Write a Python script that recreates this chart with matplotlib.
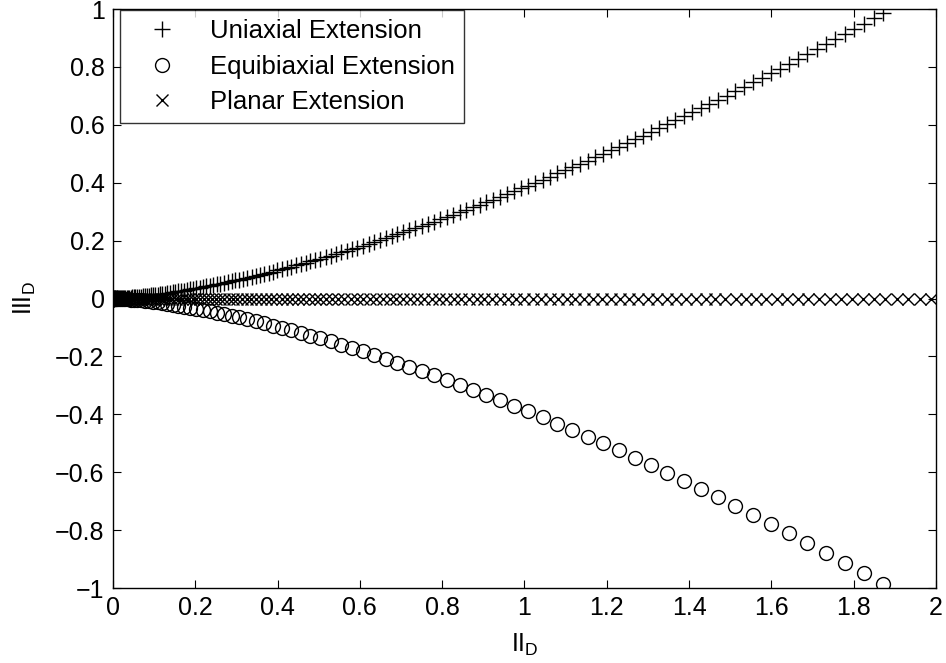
import numpy as np
import matplotlib.pyplot as plt
from matplotlib.ticker import FuncFormatter

plt.rcParams['font.family'] = ['Liberation Sans', 'DejaVu Sans']
plt.rcParams['mathtext.fontset'] = 'custom'
plt.rcParams['mathtext.rm'] = 'Liberation Sans'
plt.rcParams['mathtext.it'] = 'Liberation Sans:italic'

# uniaxial extension (II_D, III_D)
II_uni = [0.0, 0.0001, 0.0003, 0.0007, 0.0012, 0.0019, 0.0027, 0.0037, 0.0048, 0.0061,
          0.0075, 0.0091, 0.0108, 0.0127, 0.0147, 0.0169, 0.0192, 0.0217, 0.0243, 0.0271,
          0.0300, 0.0331, 0.0363, 0.0397, 0.0432, 0.0469, 0.0507, 0.0547, 0.0588, 0.0631,
          0.0675, 0.0721, 0.0768, 0.0817, 0.0867, 0.0919, 0.0972, 0.1027, 0.1083, 0.1141,
          0.1200, 0.1261, 0.1323, 0.1387, 0.1452, 0.1519, 0.1587, 0.1657, 0.1728, 0.1801,
          0.1875, 0.1951, 0.2028, 0.2107, 0.2187, 0.2269, 0.2352, 0.2437, 0.2523, 0.2611,
          0.2700, 0.2791, 0.2883, 0.2977, 0.3072, 0.3169, 0.3267, 0.3367, 0.3468, 0.3571,
          0.3675, 0.3781, 0.3888, 0.3997, 0.4107, 0.4219, 0.4332, 0.4447, 0.4563, 0.4681,
          0.4800, 0.4921, 0.5043, 0.5167, 0.5292, 0.5419, 0.5547, 0.5677, 0.5808, 0.5941,
          0.6075, 0.6211, 0.6348, 0.6487, 0.6627, 0.6769, 0.6912, 0.7057, 0.7203, 0.7351,
          0.7500, 0.7651, 0.7803, 0.7957, 0.8112, 0.8269, 0.8427, 0.8587, 0.8748, 0.8911,
          0.9075, 0.9241, 0.9408, 0.9577, 0.9747, 0.9919, 1.0092, 1.0267, 1.0443, 1.0621,
          1.0800, 1.0981, 1.1163, 1.1347, 1.1532, 1.1719, 1.1907, 1.2097, 1.2288, 1.2481,
          1.2675, 1.2871, 1.3068, 1.3267, 1.3467, 1.3669, 1.3872, 1.4077, 1.4283, 1.4491,
          1.4700, 1.4911, 1.5123, 1.5337, 1.5552, 1.5769, 1.5987, 1.6207, 1.6428, 1.6651,
          1.6875, 1.7101, 1.7328, 1.7557, 1.7787, 1.8019, 1.8252, 1.8487, 1.8723]
III_uni = [0.0, 0.0, 0.0, 0.0, 0.0, 0.0, 0.0001, 0.0001, 0.0001, 0.0002,
           0.0003, 0.0003, 0.0004, 0.0005, 0.0007, 0.0008, 0.0010, 0.0012, 0.0015, 0.0017,
           0.0020, 0.0023, 0.0027, 0.0030, 0.0035, 0.0039, 0.0044, 0.0049, 0.0055, 0.0061,
           0.0068, 0.0074, 0.0082, 0.0090, 0.0098, 0.0107, 0.0117, 0.0127, 0.0137, 0.0148,
           0.0160, 0.0172, 0.0185, 0.0199, 0.0213, 0.0228, 0.0243, 0.0260, 0.0276, 0.0294,
           0.0313, 0.0332, 0.0352, 0.0372, 0.0394, 0.0416, 0.0439, 0.0463, 0.0488, 0.0513,
           0.0540, 0.0567, 0.0596, 0.0625, 0.0655, 0.0687, 0.0719, 0.0752, 0.0786, 0.0821,
           0.0858, 0.0895, 0.0933, 0.0973, 0.1013, 0.1055, 0.1097, 0.1141, 0.1186, 0.1233,
           0.1280, 0.1329, 0.1378, 0.1429, 0.1482, 0.1535, 0.1590, 0.1646, 0.1704, 0.1762,
           0.1823, 0.1884, 0.1947, 0.2011, 0.2076, 0.2143, 0.2212, 0.2282, 0.2353, 0.2426,
           0.2500, 0.2576, 0.2653, 0.2732, 0.2812, 0.2894, 0.2978, 0.3063, 0.3149, 0.3238,
           0.3328, 0.3419, 0.3512, 0.3607, 0.3704, 0.3802, 0.3902, 0.4004, 0.4108, 0.4213,
           0.4320, 0.4429, 0.4540, 0.4652, 0.4767, 0.4883, 0.5001, 0.5121, 0.5243, 0.5367,
           0.5493, 0.5620, 0.5750, 0.5882, 0.6015, 0.6151, 0.6289, 0.6428, 0.6570, 0.6714,
           0.6860, 0.7008, 0.7158, 0.7311, 0.7465, 0.7622, 0.7780, 0.7941, 0.8104, 0.8270,
           0.8438, 0.8607, 0.8780, 0.8954, 0.9131, 0.9310, 0.9491, 0.9675, 0.9861]

# equibiaxial extension
II_equi = [0.0, 0.0003, 0.0012, 0.0027, 0.0048, 0.0075, 0.0108, 0.0147, 0.0192, 0.0243,
           0.0300, 0.0363, 0.0432, 0.0507, 0.0588, 0.0675, 0.0768, 0.0867, 0.0972, 0.1083,
           0.1200, 0.1323, 0.1452, 0.1587, 0.1728, 0.1875, 0.2028, 0.2187, 0.2352, 0.2523,
           0.2700, 0.2883, 0.3072, 0.3267, 0.3468, 0.3675, 0.3888, 0.4107, 0.4332, 0.4563,
           0.4800, 0.5043, 0.5292, 0.5547, 0.5808, 0.6075, 0.6348, 0.6627, 0.6912, 0.7203,
           0.7500, 0.7803, 0.8112, 0.8427, 0.8748, 0.9075, 0.9408, 0.9747, 1.0092, 1.0443,
           1.0800, 1.1163, 1.1532, 1.1907, 1.2288, 1.2675, 1.3068, 1.3467, 1.3872, 1.4283,
           1.4700, 1.5123, 1.5552, 1.5987, 1.6428, 1.6875, 1.7328, 1.7787, 1.8252, 1.8723]
III_equi = [0.0, 0.0, 0.0, -0.0001, -0.0001, -0.0003, -0.0004, -0.0007, -0.0010, -0.0015,
            -0.0020, -0.0027, -0.0035, -0.0044, -0.0055, -0.0068, -0.0082, -0.0098, -0.0117, -0.0137,
            -0.0160, -0.0185, -0.0213, -0.0243, -0.0276, -0.0313, -0.0352, -0.0394, -0.0439, -0.0488,
            -0.0540, -0.0596, -0.0655, -0.0719, -0.0786, -0.0858, -0.0933, -0.1013, -0.1097, -0.1186,
            -0.1280, -0.1378, -0.1482, -0.1590, -0.1704, -0.1823, -0.1947, -0.2076, -0.2212, -0.2353,
            -0.2500, -0.2653, -0.2812, -0.2978, -0.3149, -0.3328, -0.3512, -0.3704, -0.3902, -0.4108,
            -0.4320, -0.4540, -0.4767, -0.5001, -0.5243, -0.5493, -0.5750, -0.6015, -0.6289, -0.6570,
            -0.6860, -0.7158, -0.7465, -0.7780, -0.8104, -0.8438, -0.8780, -0.9131, -0.9491, -0.9861]

# planar extension
II_plan = [0.0, 0.0001, 0.0004, 0.0009, 0.0016, 0.0025, 0.0036, 0.0049, 0.0064, 0.0081,
           0.0100, 0.0121, 0.0144, 0.0169, 0.0196, 0.0225, 0.0256, 0.0289, 0.0324, 0.0361,
           0.0400, 0.0441, 0.0484, 0.0529, 0.0576, 0.0625, 0.0676, 0.0729, 0.0784, 0.0841,
           0.0900, 0.0961, 0.1024, 0.1089, 0.1156, 0.1225, 0.1296, 0.1369, 0.1444, 0.1521,
           0.1600, 0.1681, 0.1764, 0.1849, 0.1936, 0.2025, 0.2116, 0.2209, 0.2304, 0.2401,
           0.2500, 0.2601, 0.2704, 0.2809, 0.2916, 0.3025, 0.3136, 0.3249, 0.3364, 0.3481,
           0.3600, 0.3721, 0.3844, 0.3969, 0.4096, 0.4225, 0.4356, 0.4489, 0.4624, 0.4761,
           0.4900, 0.5041, 0.5184, 0.5329, 0.5476, 0.5625, 0.5776, 0.5929, 0.6084, 0.6241,
           0.6400, 0.6561, 0.6724, 0.6889, 0.7056, 0.7225, 0.7396, 0.7569, 0.7744, 0.7921,
           0.8100, 0.8281, 0.8464, 0.8649, 0.8836, 0.9025, 0.9216, 0.9409, 0.9604, 0.9801,
           1.0000, 1.0201, 1.0404, 1.0609, 1.0816, 1.1025, 1.1236, 1.1449, 1.1664, 1.1881,
           1.2100, 1.2321, 1.2544, 1.2769, 1.2996, 1.3225, 1.3456, 1.3689, 1.3924, 1.4161,
           1.4400, 1.4641, 1.4884, 1.5129, 1.5376, 1.5625, 1.5876, 1.6129, 1.6384, 1.6641,
           1.6900, 1.7161, 1.7424, 1.7689, 1.7956, 1.8225, 1.8496, 1.8769, 1.9044, 1.9321,
           1.9600, 1.9881, 2.0164]
III_plan = [0.0] * len(II_plan)

labels = ['Uniaxial Extension', 'Equibiaxial Extension', 'Planar Extension']
xticks = [0, 0.2, 0.4, 0.6, 0.8, 1, 1.2, 1.4, 1.6, 1.8, 2]
yticks = [-1, -0.8, -0.6, -0.4, -0.2, 0, 0.2, 0.4, 0.6, 0.8, 1]


def fmt(v, pos):
    s = '%g' % round(v, 6)
    return s.replace('-', '\u2212')


fig = plt.figure(figsize=(9.46, 6.63), dpi=100)
ax = fig.add_axes([0.1194, 0.1131, 0.87, 0.8733])

ax.plot(II_uni, III_uni, ls='none', marker='+', ms=11, mew=1.0, c='k', label=labels[0])
ax.plot(II_equi, III_equi, ls='none', marker='o', ms=10, mew=1.0, mfc='none', c='k', label=labels[1])
ax.plot(II_plan, III_plan, ls='none', marker='x', ms=8, mew=1.0, c='k', label=labels[2])

ax.set_xlim(0, 2)
ax.set_ylim(-1, 1)
ax.set_xticks(xticks)
ax.set_yticks(yticks)
ax.xaxis.set_major_formatter(FuncFormatter(fmt))
ax.yaxis.set_major_formatter(FuncFormatter(fmt))
ax.tick_params(direction='in', length=6, width=0.8, top=True, right=True,
               labelsize=18, pad=6)
for s in ax.spines.values():
    s.set_linewidth(1.0)

ax.set_xlabel(r'II$_\mathrm{D}$', fontsize=18, labelpad=8)
ax.set_ylabel(r'III$_\mathrm{D}$', fontsize=18, labelpad=12)

leg = ax.legend(loc='upper left', bbox_to_anchor=(0.0085, 0.998), borderaxespad=0,
                fontsize=18.5, frameon=True, fancybox=False, edgecolor='k',
                borderpad=0.35, handletextpad=0.55, labelspacing=0.45, handlelength=2.6)
leg.get_frame().set_linewidth(1.0)

fig.savefig('out.png', dpi=100)
